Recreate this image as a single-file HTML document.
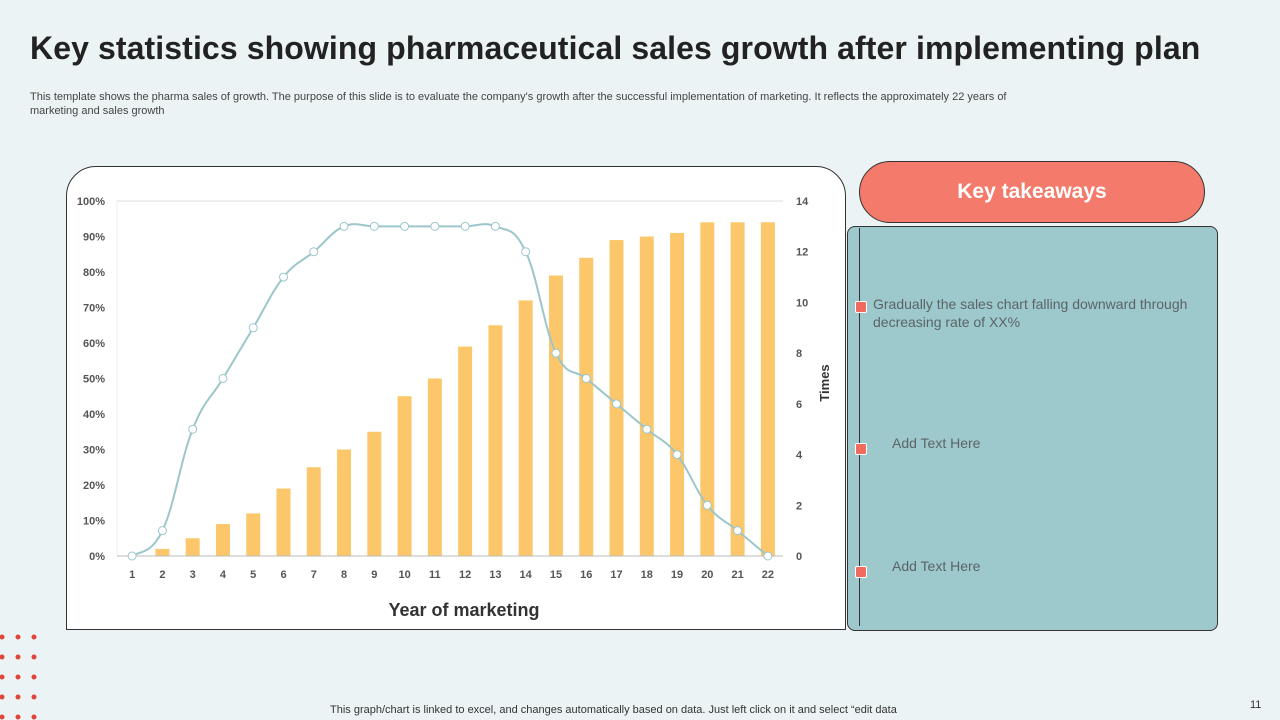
<!DOCTYPE html>
<html><head><meta charset="utf-8"><style>
body{margin:0;width:1280px;height:720px;background:#ebf3f4;font-family:"Liberation Sans",sans-serif;position:relative;overflow:hidden}
.abs{position:absolute}
</style></head><body>
<div class="abs" style="left:30px;top:30px;font-size:32px;font-weight:bold;color:#222;letter-spacing:0.1px">Key statistics showing pharmaceutical sales growth after implementing plan</div>
<div class="abs" style="left:30px;top:90px;width:1020px;font-size:11px;line-height:14px;color:#444">This template shows the pharma sales of growth. The purpose of this slide is to evaluate the company's growth after the successful implementation of marketing. It reflects the approximately 22 years of marketing and sales growth</div>
<div class="abs" style="left:66px;top:166px;width:780px;height:464px;background:#fff;border:1px solid #333;border-radius:30px 30px 0 0;box-sizing:border-box"></div>
<svg class="abs" style="left:0;top:0" width="1280" height="720" id="chart"></svg>
<div class="abs" style="left:859px;top:161px;width:346px;height:62px;background:#f47b6b;border:1px solid #333;border-radius:31px;box-sizing:border-box;color:#fff;font-weight:bold;font-size:21px;text-align:center;line-height:60px">Key takeaways</div>
<div class="abs" style="left:847px;top:226px;width:371px;height:405px;background:#9dc9cd;border:1px solid #333;border-radius:8px;box-sizing:border-box"></div>
<div class="abs" style="left:859px;top:228px;width:1px;height:398px;background:#333"></div>
<div class="abs" style="left:855px;top:301px;width:10px;height:10px;background:#f06a5e;border:1px solid #fff;border-radius:2px"></div>
<div class="abs" style="left:855px;top:443px;width:10px;height:10px;background:#f06a5e;border:1px solid #fff;border-radius:2px"></div>
<div class="abs" style="left:855px;top:566px;width:10px;height:10px;background:#f06a5e;border:1px solid #fff;border-radius:2px"></div>
<div class="abs" style="left:873px;top:295px;width:340px;font-size:14px;line-height:18px;color:#5a6466">Gradually the sales chart falling downward through decreasing rate of XX%</div>
<div class="abs" style="left:892px;top:435px;font-size:14px;color:#5a6466">Add Text Here</div>
<div class="abs" style="left:892px;top:558px;font-size:14px;color:#5a6466">Add Text Here</div>
<div class="abs" style="left:330px;top:704px;font-size:11px;color:#333">This graph/chart is linked to excel,  and changes automatically based on data. Just left click on it and select “edit data</div>
<div class="abs" style="left:1250px;top:699px;font-size:11px;color:#333">11</div>
<svg class="abs" style="left:0;top:620px" width="60" height="100">
<g fill="#e0443a">
<circle cx="2" cy="17" r="2.5"/><circle cx="18" cy="17" r="2.5"/><circle cx="34" cy="17" r="2.5"/>
<circle cx="2" cy="37" r="2.5"/><circle cx="18" cy="37" r="2.5"/><circle cx="34" cy="37" r="2.5"/>
<circle cx="2" cy="57" r="2.5"/><circle cx="18" cy="57" r="2.5"/><circle cx="34" cy="57" r="2.5"/>
<circle cx="2" cy="77" r="2.5"/><circle cx="18" cy="77" r="2.5"/><circle cx="34" cy="77" r="2.5"/>
<circle cx="2" cy="97" r="2.5"/><circle cx="18" cy="97" r="2.5"/><circle cx="34" cy="97" r="2.5"/>
</g></svg>
<script>
const categories=[1,2,3,4,5,6,7,8,9,10,11,12,13,14,15,16,17,18,19,20,21,22];
const salesPct=[0,2,5,9,12,19,25,30,35,45,50,59,65,72,79,84,89,90,91,94,94,94];
const timesValues=[0,1,5,7,9,11,12,13,13,13,13,13,13,12,8,7,6,5,4,2,1,0];
const leftTicks=[0,10,20,30,40,50,60,70,80,90,100];
const rightTicks=[0,2,4,6,8,10,12,14];
const NS='http://www.w3.org/2000/svg';
const svg=document.getElementById('chart');
const X0=117,X1=783,Y0=556,Y1=201;
const band=(X1-X0)/categories.length;
const xc=i=>X0+band*(i+0.5);
const yL=v=>Y0-(v/100)*(Y0-Y1);
const yR=v=>Y0-(v/14)*(Y0-Y1);
function el(t,a,p){const e=document.createElementNS(NS,t);for(const k in a)e.setAttribute(k,a[k]);(p||svg).appendChild(e);return e;}
const grid=el('line',{x1:X0,x2:X1,y1:Y1,y2:Y1,stroke:'#ddd'});


const gl=el('line',{x1:X0,x2:X0,y1:Y1,y2:Y0,stroke:'#eee'});


leftTicks.forEach(v=>{const t=el('text',{x:105,y:yL(v)+4,'text-anchor':'end','font-size':11,'font-weight':'bold',fill:'#555'});t.textContent=v+'%';

});
rightTicks.forEach(v=>{const t=el('text',{x:796,y:yR(v)+4,'font-size':11,'font-weight':'bold',fill:'#555'});t.textContent=v;

});
salesPct.forEach((v,i)=>{const r=el('rect',{x:xc(i)-7,y:yL(v),width:14,height:Y0-yL(v),fill:'#fbc76a'});

});
const ax=el('line',{x1:X0,x2:X1,y1:Y0,y2:Y0,stroke:'#bbb'});


categories.forEach((c,i)=>{const t=el('text',{x:xc(i),y:578,'text-anchor':'middle','font-size':11,'font-weight':'bold',fill:'#555'});t.textContent=c;

});
const pts=timesValues.map((v,i)=>[xc(i),yR(v)]);
let d='M'+pts[0][0]+','+pts[0][1];
for(let i=0;i<pts.length-1;i++){const p0=pts[i-1]||pts[i],p1=pts[i],p2=pts[i+1],p3=pts[i+2]||p2;const t=0.2;
d+=' C'+(p1[0]+(p2[0]-p0[0])*t)+','+(p1[1]+(p2[1]-p0[1])*t)+' '+(p2[0]-(p3[0]-p1[0])*t)+','+(p2[1]-(p3[1]-p1[1])*t)+' '+p2[0]+','+p2[1];}
const line=el('path',{d:d,fill:'none',stroke:'#9cc6cb','stroke-width':2});


pts.forEach((p,i)=>{const c=el('circle',{cx:p[0],cy:p[1],r:4,fill:'#fff',stroke:'#9cc6cb','stroke-width':1});

});
const xt=el('text',{x:464,y:616,'text-anchor':'middle','font-size':18,'font-weight':'bold',fill:'#333'});xt.textContent='Year of marketing';


const yt=el('text',{x:0,y:0,'text-anchor':'middle','font-size':13,'font-weight':'bold',fill:'#333',transform:'translate(829,383) rotate(-90)'});yt.textContent='Times';


</script>
</body></html>
